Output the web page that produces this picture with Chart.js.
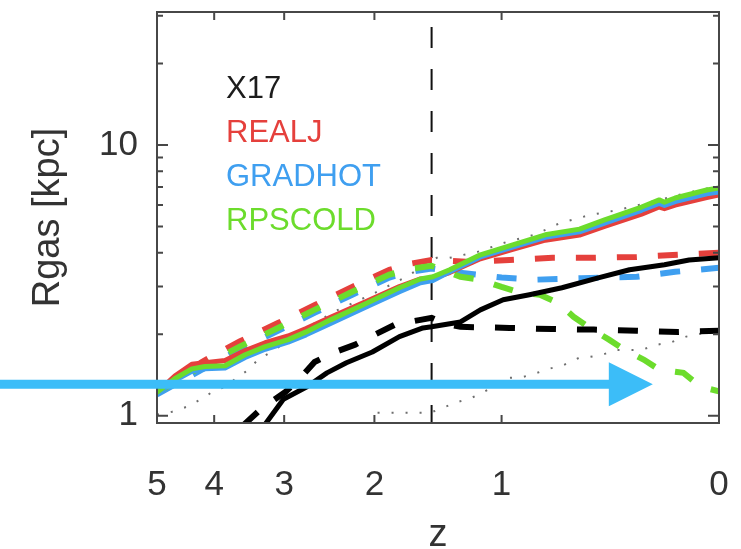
<!DOCTYPE html>
<html>
<head>
<meta charset="utf-8">
<script src="https://cdn.jsdelivr.net/npm/chart.js@4.4.1/dist/chart.umd.min.js"></script>
<style>
  html, body { margin: 0; padding: 0; background: #fff; }
  #wrap { width: 741px; height: 549px; }
</style>
</head>
<body>
<div id="wrap"><canvas id="rgas" width="741" height="549"></canvas></div>
<script>
const zTicks = [5, 4, 3, 2, 1, 0];
const rMajor = [1, 10];
const rMinor = [2, 3, 4, 5, 6, 7, 8, 9, 20, 30];
const zSplit = 1.5;

const runNames = ["X17", "REALJ", "GRADHOT", "RPSCOLD"];
const runColors = ["#1c1c1c", "#e5403c", "#3f9ff0", "#6cdc2c"];

// solid runs
const zRun = [5.0, 4.67, 4.37, 4.15, 3.83, 3.53, 3.25, 2.95, 2.73, 2.45, 2.07, 1.77, 1.59, 1.49, 1.36, 1.14, 0.93, 0.74, 0.56, 0.44, 0.28, 0.21, 0.19, 0.15, 0.04, 0.0];
const rRPSCOLD = [1.22, 1.37, 1.49, 1.52, 1.53, 1.68, 1.80, 1.91, 2.04, 2.26, 2.61, 2.97, 3.20, 3.26, 3.46, 3.93, 4.28, 4.66, 4.89, 5.29, 5.90, 6.27, 6.15, 6.37, 6.82, 6.94];
const rREALJ = [1.22, 1.40, 1.55, 1.57, 1.60, 1.74, 1.86, 1.97, 2.10, 2.31, 2.65, 3.00, 3.20, 3.22, 3.38, 3.80, 4.12, 4.45, 4.65, 5.00, 5.55, 5.90, 5.82, 6.00, 6.40, 6.54];
const rGRADHOT = [1.20, 1.35, 1.46, 1.49, 1.50, 1.64, 1.76, 1.87, 1.99, 2.19, 2.53, 2.87, 3.10, 3.16, 3.40, 3.86, 4.20, 4.56, 4.78, 5.15, 5.74, 6.08, 5.98, 6.18, 6.60, 6.71];

const zX17 = [3.25, 3.01, 2.72, 2.49, 2.28, 2.02, 1.77, 1.57, 1.5, 1.28, 1.14, 0.99, 0.83, 0.65, 0.47, 0.33, 0.19, 0.10, 0.0];
const rX17 = [0.93, 1.15, 1.28, 1.44, 1.57, 1.72, 1.96, 2.11, 2.13, 2.22, 2.46, 2.68, 2.80, 2.97, 3.23, 3.46, 3.61, 3.76, 3.83];

// dashed runs
const zREALJd = [5.0, 4.2, 3.61, 3.08, 2.62, 2.22, 1.86, 1.68, 1.5, 1.21, 0.95, 0.70, 0.49, 0.30, 0.14, 0.0];
const rREALJd = [1.22, 1.58, 1.88, 2.20, 2.57, 2.99, 3.46, 3.64, 3.76, 3.70, 3.76, 3.83, 3.83, 3.86, 3.93, 4.00];

const zGRADHOTd = [5.0, 4.2, 3.61, 3.08, 2.62, 2.22, 1.86, 1.68, 1.5, 1.3, 1.0, 0.8, 0.55, 0.3, 0.15, 0.0];
const rGRADHOTd = [1.20, 1.48, 1.76, 2.06, 2.41, 2.80, 3.24, 3.40, 3.50, 3.38, 3.24, 3.18, 3.22, 3.26, 3.40, 3.52];

const zRPSCOLDd = [5.0, 4.2, 3.61, 3.08, 2.62, 2.22, 1.86, 1.68, 1.5, 1.38, 1.28, 1.14, 1.0, 0.88, 0.77, 0.67, 0.59, 0.51, 0.42, 0.35, 0.27, 0.21, 0.12, 0.06, 0.0];
const rRPSCOLDd = [1.22, 1.52, 1.80, 2.11, 2.47, 2.87, 3.32, 3.48, 3.58, 3.40, 3.26, 3.18, 2.99, 2.84, 2.80, 2.61, 2.32, 2.11, 1.91, 1.75, 1.61, 1.48, 1.44, 1.28, 1.23];

const zX17d = [3.56, 3.29, 2.99, 2.80, 2.63, 2.40, 2.19, 2.0, 1.81, 1.59, 1.5, 1.4, 1.28, 0.95, 0.70, 0.49, 0.30, 0.14, 0.0];
const rX17d = [0.92, 1.07, 1.22, 1.38, 1.58, 1.72, 1.83, 1.99, 2.17, 2.26, 2.30, 2.19, 2.13, 2.11, 2.09, 2.08, 2.06, 2.04, 2.06];

// dotted reference curves
const zRefHi = [5.0, 4.72, 4.45, 4.22, 4.04, 3.83, 3.65, 3.48, 3.35, 3.17, 2.57, 2.37, 2.03, 1.71, 1.46, 1.36, 1.16, 0.97, 0.80, 0.66, 0.51, 0.38, 0.21, 0.11, 0.0];
const rRefHi = [1.01, 1.035, 1.08, 1.15, 1.22, 1.28, 1.38, 1.48, 1.61, 1.72, 2.26, 2.46, 2.80, 3.26, 3.83, 3.83, 4.03, 4.38, 4.66, 5.15, 5.51, 5.75, 6.27, 6.65, 7.06];
const zRefLo = [1.97, 1.51, 1.41, 1.31, 1.20, 1.11, 0.95, 0.87, 0.80, 0.72, 0.64, 0.56, 0.51, 0.45, 0.39, 0.28, 0.22, 0.17, 0.11, 0.05, 0.0];
const rRefLo = [1.026, 1.026, 1.07, 1.12, 1.165, 1.23, 1.38, 1.39, 1.43, 1.49, 1.54, 1.64, 1.65, 1.68, 1.75, 1.75, 1.83, 1.86, 1.96, 2.02, 2.02];

// arrow marker
const arrowZ = 0.235;
const arrowR = 1.307;

const rMin = 0.94;
const rMax = 31;

const lz = (z) => Math.log10(1 + z);
const pts = (zs, rs) => zs.map((z, i) => ({ x: lz(z), y: rs[i] }));

const FONT = '"Liberation Sans", Arial, Helvetica, sans-serif';
const TEXT = "#333333";

function solid(label, zs, rs, color, order) {
  return { label, data: pts(zs, rs), borderColor: color, borderWidth: 5, order,
    borderJoinStyle: "round", borderCapStyle: "round" };
}
function dashed(label, zs, rs, color, order) {
  return { label, data: pts(zs, rs), borderColor: color, borderWidth: 6, order,
    borderDash: [20, 21], borderCapStyle: "butt" };
}
function dotted(label, zs, rs, order) {
  return { label, data: pts(zs, rs), borderColor: "#6e6e6e", borderWidth: 2, order,
    borderDash: [2, 12] };
}

// keep the plot box where it is, whatever the labels want
function noPadding(s) {
  s.paddingLeft = 0; s.paddingRight = 0; s.paddingTop = 0; s.paddingBottom = 0;
}

const framePlugin = {
  id: "frame",
  afterDatasetsDraw(chart) {
    const { ctx, chartArea: a, scales: { x, y } } = chart;
    ctx.save();
    ctx.strokeStyle = "#474747";
    ctx.lineWidth = 2;
    ctx.beginPath();
    zTicks.forEach((z) => {
      const px = x.getPixelForValue(lz(z));
      ctx.moveTo(px, a.bottom); ctx.lineTo(px, a.bottom - 8);
      ctx.moveTo(px, a.top); ctx.lineTo(px, a.top + 8);
    });
    const yTick = (v, len) => {
      if (v < rMin || v > rMax) return;
      const py = y.getPixelForValue(v);
      ctx.moveTo(a.left, py); ctx.lineTo(a.left + len, py);
      ctx.moveTo(a.right, py); ctx.lineTo(a.right - len, py);
    };
    rMajor.forEach((v) => yTick(v, 11));
    rMinor.forEach((v) => yTick(v, 6));
    ctx.stroke();
    ctx.strokeRect(a.left, a.top, a.width, a.height);
    ctx.restore();
  }
};

const namesPlugin = {
  id: "runNames",
  afterDraw(chart) {
    const { ctx, chartArea: a } = chart;
    ctx.save();
    ctx.font = "31px " + FONT;
    ctx.textBaseline = "middle";
    runNames.forEach((name, i) => {
      ctx.fillStyle = runColors[i];
      ctx.fillText(name, a.left + 69, a.top + 77 + i * 44.3);
    });
    ctx.restore();
  }
};

const arrowPlugin = {
  id: "arrow",
  afterDraw(chart) {
    const { ctx, scales: { x, y } } = chart;
    const py = y.getPixelForValue(arrowR);
    const tip = x.getPixelForValue(lz(arrowZ));
    const head = 44;
    ctx.save();
    ctx.fillStyle = "#3cbdf8";
    ctx.fillRect(0, py - 4.5, tip - head + 1, 9);
    ctx.beginPath();
    ctx.moveTo(tip - head, py - 22);
    ctx.lineTo(tip, py);
    ctx.lineTo(tip - head, py + 22);
    ctx.closePath();
    ctx.fill();
    ctx.restore();
  }
};

const ctx = document.getElementById("rgas").getContext("2d");
new Chart(ctx, {
  type: "line",
  data: {
    datasets: [
      solid("RPSCOLD", zRun, rRPSCOLD, runColors[3], 0),
      solid("GRADHOT", zRun, rGRADHOT, runColors[2], 1),
      solid("REALJ", zRun, rREALJ, runColors[1], 2),
      solid("X17", zX17, rX17, "#000000", 3),
      dashed("X17 dashed", zX17d, rX17d, "#000000", 4),
      dashed("RPSCOLD dashed", zRPSCOLDd, rRPSCOLDd, runColors[3], 5),
      dashed("GRADHOT dashed", zGRADHOTd, rGRADHOTd, runColors[2], 6),
      dashed("REALJ dashed", zREALJd, rREALJd, runColors[1], 7),
      dotted("upper", zRefHi, rRefHi, 8),
      dotted("lower", zRefLo, rRefLo, 9),
      {
        label: "split",
        data: [{ x: lz(zSplit), y: rMax }, { x: lz(zSplit), y: rMin }],
        borderColor: "#111111", borderWidth: 2, borderDash: [21, 21], borderDashOffset: 27,
        order: 10
      }
    ]
  },
  options: {
    responsive: false,
    animation: false,
    layout: { padding: { top: 12, right: 22, left: 0, bottom: 0 } },
    elements: { point: { radius: 0 }, line: { tension: 0, fill: false } },
    plugins: { legend: { display: false }, tooltip: { enabled: false } },
    scales: {
      x: {
        type: "linear",
        reverse: true,
        min: 0,
        max: lz(5),
        grid: { display: false },
        border: { display: false },
        afterBuildTicks: (s) => { s.ticks = zTicks.map((z) => ({ value: lz(z) })); },
        afterFit: (s) => { s.height = 126; noPadding(s); },
        ticks: {
          autoSkip: false, maxRotation: 0, padding: 33, color: TEXT,
          font: { family: FONT, size: 35 },
          callback: (v, i) => String(zTicks[i])
        },
        title: {
          display: true, text: "z", color: TEXT,
          font: { family: FONT, size: 38, lineHeight: 1 },
          padding: { top: 0, bottom: -6 }
        }
      },
      y: {
        type: "logarithmic",
        min: rMin,
        max: rMax,
        grid: { display: false },
        border: { display: false },
        afterBuildTicks: (s) => { s.ticks = rMajor.map((v) => ({ value: v })); },
        afterFit: (s) => { s.width = 157; noPadding(s); },
        ticks: {
          padding: 11, color: TEXT,
          font: { family: FONT, size: 35 },
          callback: (v, i) => String(rMajor[i])
        },
        title: {
          display: true, text: "Rgas [kpc]", color: TEXT,
          font: { family: FONT, size: 38, lineHeight: 1 },
          padding: { top: 30, bottom: 0 }
        }
      }
    }
  },
  plugins: [framePlugin, namesPlugin, arrowPlugin]
});
</script>
</body>
</html>
